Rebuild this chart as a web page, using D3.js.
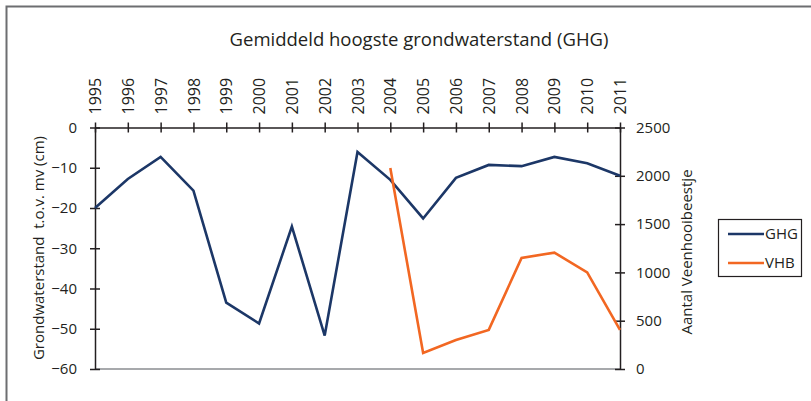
<!DOCTYPE html>
<html>
<head>
<meta charset="utf-8">
<script src="https://cdn.jsdelivr.net/npm/d3@7"></script>
<style>
  body { margin: 0; background: #fff; }
  text { font-family: "Open Sans", "Noto Sans", sans-serif; fill: #231f20; }
</style>
</head>
<body>
<div id="chart"></div>
<script>
// data
const years = [1995, 1996, 1997, 1998, 1999, 2000, 2001, 2002, 2003, 2004, 2005, 2006, 2007, 2008, 2009, 2010, 2011]
const ghg = [-20, -12.8, -7.3, -15.7, -43.5, -48.7, -24.6, -51.7, -6.1, -13, -22.6, -12.5, -9.3, -9.6, -7.3, -8.9, -12]
const vhbYears = [2004, 2005, 2006, 2007, 2008, 2009, 2010, 2011]
const vhb = [2080, 165, 300, 405, 1150, 1205, 1000, 405]
const leftTicks = [0, -10, -20, -30, -40, -50, -60]
const rightTicks = [0, 500, 1000, 1500, 2000, 2500]

let w = 811, h = 401
let mLeft = 95, mRight = 620, mTop = 127.5, mBottom = 369

let svg = d3.select('#chart').append('svg').attr('width', w).attr('height', h)

// outer frame (only top and left edge visible)
svg.append('path')
  .attr('d', `M6.5,${h} L6.5,6.5 L${w},6.5`)
  .attr('fill', 'none').attr('stroke', '#6d6e71').attr('stroke-width', 2)

svg.append('text').attr('x', 419).attr('y', 46)
  .attr('text-anchor', 'middle').attr('font-size', 18.5)
  .text('Gemiddeld hoogste grondwaterstand (GHG)')

let x = d3.scaleLinear().domain([1995, 2011]).range([mLeft, mRight])
let yL = d3.scaleLinear().domain([-60, 0]).range([mBottom, mTop])
let yR = d3.scaleLinear().domain([0, 2500]).range([mBottom, mTop])

// bottom line (grey, no ticks)
svg.append('line').attr('x1', mLeft).attr('x2', mRight).attr('y1', mBottom).attr('y2', mBottom)
  .attr('stroke', '#a7a9ac').attr('stroke-width', 2)

let styleAxis = (g) => {
  g.select('.domain').attr('stroke', '#231f20').attr('stroke-width', 1.5)
  g.selectAll('.tick line').attr('stroke', '#231f20').attr('stroke-width', 1.5)
  g.selectAll('.tick text').attr('font-size', 15).attr('fill', '#231f20')
}

// top year axis, ticks crossing the line
let xAxis = svg.append('g').attr('transform', `translate(0,${mTop})`)
  .call(d3.axisTop(x).tickValues(years).tickFormat(d3.format('d')).tickSizeOuter(0).tickSizeInner(5))
xAxis.selectAll('.tick line').attr('y2', 5).attr('y1', -5)
styleAxis(xAxis)
xAxis.selectAll('.tick text')
  .attr('transform', 'rotate(-90)')
  .attr('x', 13).attr('y', 0).attr('dy', '0.35em')
  .attr('text-anchor', 'start')
  .attr('font-size', 16)

let lAxis = svg.append('g').attr('transform', `translate(${mLeft},0)`)
  .call(d3.axisLeft(yL).tickValues(leftTicks).tickSizeOuter(0).tickSizeInner(5).tickPadding(13))
lAxis.selectAll('.tick line').attr('x1', -5).attr('x2', 5)
styleAxis(lAxis)

let rAxis = svg.append('g').attr('transform', `translate(${mRight},0)`)
  .call(d3.axisRight(yR).tickValues(rightTicks).tickFormat(d3.format('d')).tickSizeOuter(0).tickSizeInner(5).tickPadding(11))
rAxis.selectAll('.tick line').attr('x1', -5).attr('x2', 5)
styleAxis(rAxis)

svg.append('text').attr('transform', 'translate(44,248) rotate(-90)')
  .attr('text-anchor', 'middle').attr('font-size', 15)
  .style('white-space', 'pre')
  .text('Grondwaterstand  t.o.v. mv (cm)')

svg.append('text').attr('transform', 'translate(692,252) rotate(-90)')
  .attr('text-anchor', 'middle').attr('font-size', 15)
  .text('Aantal Veenhooibeestje')

let lineL = d3.line().x((d, i) => x(years[i])).y(d => yL(d))
let lineR = d3.line().x((d, i) => x(vhbYears[i])).y(d => yR(d))

svg.append('path').datum(ghg).attr('d', lineL)
  .attr('fill', 'none').attr('stroke', '#1c3767').attr('stroke-width', 2.6)
svg.append('path').datum(vhb).attr('d', lineR)
  .attr('fill', 'none').attr('stroke', '#f26722').attr('stroke-width', 2.6)

// legend
let lg = svg.append('g')
lg.append('rect').attr('x', 718.5).attr('y', 219.5).attr('width', 83).attr('height', 57)
  .attr('fill', '#fff').attr('stroke', '#231f20').attr('stroke-width', 1.2)
let items = [['GHG', '#1c3767'], ['VHB', '#f26722']]
items.forEach((it, i) => {
  let yy = 234 + i * 29
  lg.append('line').attr('x1', 728).attr('x2', 764).attr('y1', yy).attr('y2', yy)
    .attr('stroke', it[1]).attr('stroke-width', 2.6)
  lg.append('text').attr('x', 765).attr('y', yy).attr('dy', '0.35em').attr('font-size', 15).text(it[0])
})
</script>
</body>
</html>
